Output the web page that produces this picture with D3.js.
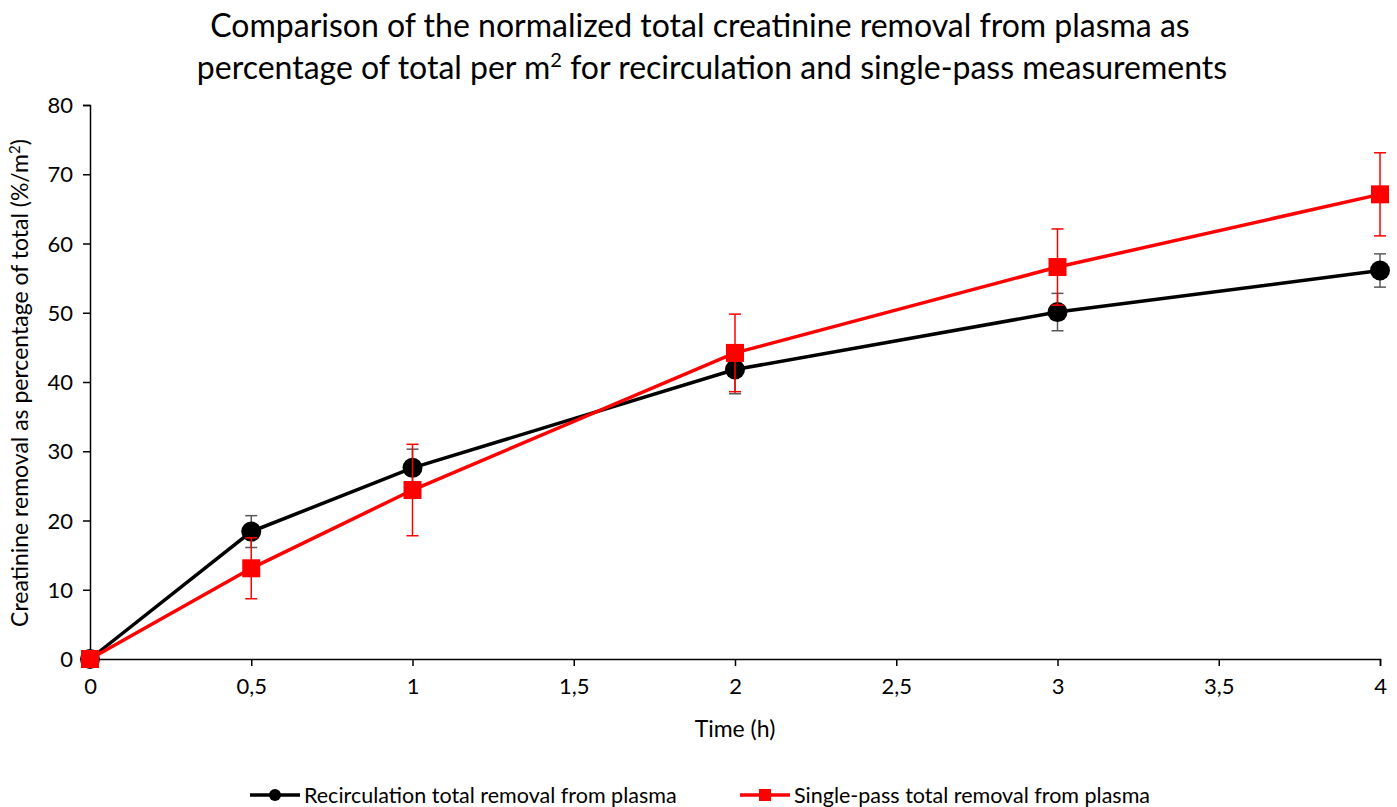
<!DOCTYPE html>
<html>
<head>
<meta charset="utf-8">
<script src="https://cdn.jsdelivr.net/npm/d3@7"></script>
<style>
  body { margin: 0; background: #fff; }
  svg text { font-family: Lato, "Open Sans", sans-serif; fill: #000; }
</style>
</head>
<body>
<svg id="chart" width="1397" height="807"></svg>
<script>
// data
const times = [0, 0.5, 1, 2, 3, 4];
const recircValues = [0, 18.4, 27.6, 41.8, 50.1, 56.1];
const recircErrors = [0, 2.3, 2.7, 3.5, 2.7, 2.4];
const singleValues = [0, 13.1, 24.4, 44.2, 56.6, 67.1];
const singleErrors = [0, 4.4, 6.6, 5.6, 5.5, 6.0];
const xTicks = [0, 0.5, 1, 1.5, 2, 2.5, 3, 3.5, 4];
const yTicks = [0, 10, 20, 30, 40, 50, 60, 70, 80];
const seriesNames = ["Recirculation total removal from plasma", "Single-pass total removal from plasma"];

const svg = d3.select("#chart");
const margin = {left: 90, right: 17, top: 105, bottom: 148};
const W = 1397, H = 807;

let x = d3.scaleLinear().domain([0, 4]).range([margin.left, W - margin.right]);
let y = d3.scaleLinear().domain([0, 80]).range([H - margin.bottom, margin.top]);

// title
let title = svg.append("text")
    .attr("text-anchor", "middle")
    .attr("font-size", "32px");
title.append("tspan").attr("x", 700).attr("y", 37)
    .text("Comparison of the normalized total creatinine removal from plasma as");
let l2 = title.append("tspan").attr("x", 712).attr("y", 79);
l2.append("tspan").text("percentage of total per m");
l2.append("tspan").attr("dy", -12).attr("font-size", "20px").text("2");
l2.append("tspan").attr("dy", 12).text(" for recirculation and single-pass measurements");

// axes
let xAxis = svg.append("g")
    .attr("transform", `translate(0,${y(0)})`)
    .call(d3.axisBottom(x).tickValues(xTicks).tickSize(7).tickPadding(12)
        .tickFormat(d => String(d).replace(".", ",")));
let yAxis = svg.append("g")
    .attr("transform", `translate(${x(0)},0)`)
    .call(d3.axisLeft(y).tickValues(yTicks).tickSize(7).tickPadding(10));

[xAxis, yAxis].forEach(a => {
    a.select(".domain").attr("stroke", "#000").attr("stroke-width", 1.5);
    a.selectAll(".tick line").attr("stroke", "#000").attr("stroke-width", 1.5);
    a.selectAll(".tick text").attr("font-size", "22px").attr("font-family", 'Lato, "Open Sans", sans-serif');
});
yAxis.selectAll(".tick text").attr("dy", "0.35em");

svg.append("text")
    .attr("x", 735)
    .attr("y", 737)
    .attr("text-anchor", "middle")
    .attr("font-size", "23px")
    .text("Time (h)");

let yl = svg.append("text")
    .attr("transform", `translate(28,${y(40) + 1}) rotate(-90)`)
    .attr("text-anchor", "middle")
    .attr("font-size", "23px");
yl.append("tspan").text("Creatinine removal as percentage of total (%/m");
yl.append("tspan").attr("dy", -8).attr("font-size", "15px").text("2");
yl.append("tspan").attr("dy", 8).text(")");

// series
const series = [
    {values: recircValues, errors: recircErrors, color: "#000", errColor: "#595959", shape: "circle"},
    {values: singleValues, errors: singleErrors, color: "#ff0000", errColor: "#ff0000", shape: "square"}
];

let line = d3.line().x((d, i) => x(times[i])).y(d => y(d));

series.forEach(s => {
    let g = svg.append("g");

    let eb = g.append("g").selectAll("g")
        .data(s.values.map((v, i) => ({t: times[i], v: v, e: s.errors[i]})).filter(d => d.e > 0))
        .enter().append("g")
        .attr("stroke", s.errColor)
        .attr("stroke-width", 1.5);
    eb.append("line")
        .attr("x1", d => x(d.t)).attr("x2", d => x(d.t))
        .attr("y1", d => y(d.v + d.e)).attr("y2", d => y(d.v - d.e));
    eb.append("line")
        .attr("x1", d => x(d.t) - 6).attr("x2", d => x(d.t) + 6)
        .attr("y1", d => y(d.v + d.e)).attr("y2", d => y(d.v + d.e));
    eb.append("line")
        .attr("x1", d => x(d.t) - 6).attr("x2", d => x(d.t) + 6)
        .attr("y1", d => y(d.v - d.e)).attr("y2", d => y(d.v - d.e));

    g.append("path")
        .datum(s.values)
        .attr("fill", "none")
        .attr("stroke", s.color)
        .attr("stroke-width", 3.5)
        .attr("d", line);

    if (s.shape === "circle") {
        g.selectAll("circle.m").data(s.values).enter().append("circle")
            .attr("cx", (d, i) => x(times[i]))
            .attr("cy", d => y(d))
            .attr("r", 10)
            .attr("fill", s.color);
    } else {
        g.selectAll("rect.m").data(s.values).enter().append("rect")
            .attr("x", (d, i) => x(times[i]) - 9)
            .attr("y", d => y(d) - 9)
            .attr("width", 18)
            .attr("height", 18)
            .attr("fill", s.color);
    }
});

// legend
const legendX = [250, 740];
series.forEach((s, i) => {
    let lg = svg.append("g").attr("transform", `translate(${legendX[i]},795)`);
    lg.append("line")
        .attr("x1", 0).attr("x2", 50)
        .attr("stroke", s.color).attr("stroke-width", 3.5);
    if (s.shape === "circle")
        lg.append("circle").attr("cx", 25).attr("r", 6).attr("fill", s.color);
    else
        lg.append("rect").attr("x", 19).attr("y", -6).attr("width", 12).attr("height", 12).attr("fill", s.color);
    lg.append("text")
        .attr("x", 54)
        .attr("y", 8)
        .attr("font-size", "21.5px")
        .text(seriesNames[i]);
});
</script>
</body>
</html>
